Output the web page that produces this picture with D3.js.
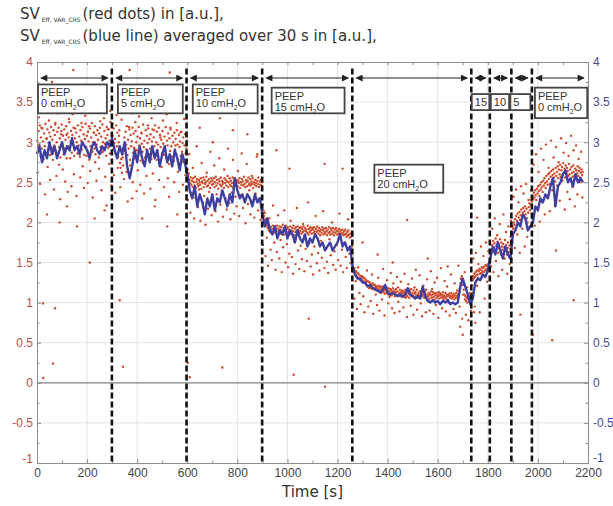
<!DOCTYPE html>
<html>
<head>
<meta charset="utf-8">
<script src="https://cdn.jsdelivr.net/npm/d3@7"></script>
<style>
  body { margin: 0; background: #fff; }
  svg { display: block; }
</style>
</head>
<body>
<svg id="chart" width="613" height="506"></svg>
<script>
// blue line: 30 s average, one value every 10 s starting at t = 0
const blueStep = 10;
const blueAvg = [
  2.85,2.95,2.75,2.9,2.8,3.0,2.85,2.95,2.8,2.9,3.0,2.85,2.95,2.9,3.05,2.9,2.95,2.85,3.0,2.95,2.9,2.8,2.95,3.0,2.9,2.85,2.95,2.9,3.0,2.95,
  3.05,2.9,2.8,2.95,2.85,3.0,2.7,2.55,2.7,2.9,2.75,2.95,2.8,2.7,2.9,2.75,2.95,2.8,2.9,2.7,2.85,2.95,2.75,2.85,2.7,2.9,2.8,2.65,2.85,2.75,
  2.6,2.4,2.3,2.45,2.2,2.35,2.25,2.1,2.3,2.2,2.35,2.15,2.3,2.25,2.4,2.3,2.2,2.35,2.25,2.55,2.4,2.3,2.35,2.25,2.35,2.3,2.2,2.35,2.25,2.3,
  2.1,1.95,2.05,1.9,1.85,1.95,1.8,1.9,1.85,1.95,1.8,1.9,1.85,1.75,1.9,1.8,1.75,1.85,1.7,1.8,1.75,1.85,1.8,1.7,1.75,1.65,1.7,1.75,1.65,1.7,1.75,1.85,1.7,1.75,1.65,1.7,
  1.45,1.35,1.3,1.3,1.25,1.25,1.2,1.22,1.18,1.17,1.15,1.13,1.15,1.22,1.12,1.1,1.12,1.1,1.08,1.1,1.07,1.1,1.18,1.1,1.08,1.05,1.08,1.05,1.2,1.08,1.02,1.0,1.03,1.0,1.02,0.98,1.02,1.0,1.03,0.98,1.0,0.98,1.0,1.2,1.3,1.2,1.1,0.98,
  1.05,1.25,1.3,1.28,1.35,1.32,1.4,
  1.55,1.7,1.6,1.75,1.65,1.55,1.7,1.6,1.55,
  1.85,1.9,2.0,1.95,2.1,2.05,1.9,1.95,2.0,
  2.2,2.15,2.3,2.25,2.35,2.3,2.45,2.55,2.2,2.45,2.5,2.6,2.65,2.5,2.55,2.45,2.6,2.5,2.55,2.5
];

// red dots, dense band: one value every 2.5 s starting at t = 1.25
const bandStep = 2.5, bandStart = 1.25;
const redBand = [
  3.02,2.88,3.14,2.97,3.21,2.83,3.06,2.92,3.17,3.01,2.79,3.11,2.95,3.23,2.87,3.04,3.16,2.91,2.99,3.12,
  2.84,3.07,3.19,2.93,3.03,2.78,3.15,2.96,3.09,3.24,2.89,3.00,3.13,2.86,3.18,2.94,3.05,2.81,3.10,3.22,
  2.98,3.08,2.85,3.16,2.92,3.03,3.20,2.80,3.11,2.95,3.06,3.25,2.90,3.01,3.14,2.87,3.09,2.97,3.18,2.83,
  3.05,2.93,3.12,3.00,2.86,3.21,2.96,3.07,2.82,3.15,3.02,2.91,3.19,2.99,3.10,2.84,3.04,3.23,2.94,3.08,
  2.89,3.13,3.01,2.78,3.17,2.95,3.06,3.24,2.88,3.00,3.12,2.92,3.20,2.85,3.09,2.97,3.15,3.03,2.81,3.11,
  3.18,2.94,3.07,2.87,3.22,3.00,2.90,3.14,2.98,3.05,2.83,3.19,3.09,2.93,3.16,3.02,2.86,3.25,2.96,3.10,
  3.08,2.91,3.17,2.99,3.04,2.86,3.21,2.95,3.12,2.82,3.00,3.15,2.74,2.68,2.79,2.62,2.85,2.71,2.93,3.06,
  2.89,3.13,2.97,3.20,2.84,3.03,2.92,3.16,2.78,3.09,2.95,3.01,3.18,2.87,3.11,2.93,2.80,3.14,3.00,2.90,
  3.07,2.83,3.19,2.96,3.05,2.77,3.12,2.98,2.88,3.22,2.94,3.02,2.81,3.15,2.91,3.08,2.99,3.17,2.85,3.04,
  2.92,3.10,2.79,3.01,3.16,2.87,3.06,2.95,3.21,2.83,3.00,3.13,2.90,2.97,3.18,2.76,3.09,2.94,3.03,2.86,
  3.14,2.98,2.84,3.07,2.93,3.19,2.80,3.02,2.96,3.11,2.73,3.05,2.89,3.16,2.95,2.82,3.08,3.00,2.77,3.12,
  2.91,3.04,2.85,3.15,2.97,2.78,3.09,2.94,3.01,2.83,3.13,2.88,2.99,3.06,2.75,2.96,3.10,2.86,2.92,3.02,
  2.66,2.58,2.61,2.53,2.49,2.56,2.47,2.52,2.44,2.55,2.50,2.46,2.57,2.43,2.51,2.54,2.48,2.45,2.53,2.50,
  2.47,2.55,2.42,2.51,2.49,2.56,2.44,2.53,2.48,2.50,2.57,2.45,2.52,2.46,2.54,2.49,2.43,2.51,2.55,2.47,
  2.52,2.48,2.55,2.44,2.50,2.57,2.46,2.53,2.49,2.42,2.54,2.51,2.47,2.56,2.45,2.52,2.48,2.50,2.43,2.55,
  2.49,2.53,2.46,2.51,2.58,2.44,2.50,2.55,2.47,2.52,2.45,2.49,2.56,2.43,2.51,2.54,2.48,2.46,2.53,2.50,
  2.45,2.52,2.49,2.55,2.43,2.50,2.47,2.54,2.51,2.46,2.57,2.48,2.44,2.53,2.50,2.45,2.52,2.56,2.47,2.49,
  2.54,2.46,2.51,2.48,2.55,2.43,2.50,2.47,2.53,2.49,2.45,2.52,2.48,2.56,2.44,2.51,2.47,2.53,2.46,2.50,
  2.22,2.15,2.08,2.12,2.03,1.99,2.05,1.96,1.93,1.97,1.90,1.95,1.88,1.94,1.91,1.86,1.96,1.92,1.89,1.95,
  1.87,1.93,1.90,1.96,1.84,1.92,1.89,1.95,1.91,1.86,1.94,1.88,1.97,1.90,1.85,1.93,1.89,1.96,1.87,1.92,
  1.94,1.88,1.91,1.85,1.95,1.90,1.87,1.93,1.89,1.96,1.84,1.92,1.88,1.94,1.90,1.86,1.95,1.91,1.87,1.93,
  1.89,1.94,1.86,1.92,1.88,1.95,1.90,1.84,1.93,1.89,1.91,1.87,1.96,1.85,1.92,1.88,1.94,1.90,1.86,1.93,
  1.91,1.87,1.94,1.89,1.85,1.92,1.88,1.95,1.90,1.86,1.93,1.89,1.84,1.91,1.87,1.94,1.90,1.85,1.92,1.88,
  1.86,1.93,1.89,1.84,1.91,1.87,1.94,1.88,1.85,1.92,1.90,1.86,1.93,1.88,1.84,1.91,1.87,1.93,1.89,1.85,
  1.90,1.86,1.92,1.88,1.83,1.90,1.86,1.91,1.87,1.84,1.89,1.85,1.91,1.86,1.82,1.88,1.84,1.90,1.85,1.81,
  1.86,1.82,1.88,1.83,
  1.46,1.41,1.38,1.43,1.35,1.39,1.33,1.37,1.31,1.36,1.30,1.34,1.28,1.33,1.29,1.32,1.27,1.31,1.25,1.30,
  1.24,1.28,1.22,1.27,1.21,1.26,1.20,1.25,1.19,1.23,1.21,1.17,1.24,1.18,1.22,1.16,1.21,1.19,1.15,1.20,
  1.17,1.21,1.14,1.19,1.16,1.12,1.18,1.15,1.20,1.13,1.17,1.11,1.16,1.19,1.12,1.15,1.18,1.10,1.14,1.17,
  1.12,1.16,1.09,1.14,1.18,1.11,1.15,1.08,1.13,1.17,1.10,1.14,1.19,1.09,1.12,1.16,1.08,1.13,1.11,1.15,
  1.09,1.14,1.12,1.07,1.16,1.10,1.13,1.08,1.15,1.11,1.06,1.14,1.10,1.17,1.08,1.12,1.09,1.15,1.07,1.11,
  1.13,1.08,1.16,1.10,1.06,1.12,1.09,1.14,1.07,1.11,1.15,1.08,1.10,1.13,1.06,1.12,1.09,1.16,1.07,1.10,
  1.08,1.12,1.05,1.11,1.09,1.14,1.06,1.10,1.13,1.07,1.11,1.04,1.09,1.12,1.06,1.10,1.08,1.13,1.05,1.09,
  1.11,1.06,1.10,1.08,1.13,1.04,1.09,1.07,1.12,1.05,1.10,1.08,1.03,1.09,1.11,1.06,1.08,1.12,1.05,1.09,
  1.07,1.11,1.04,1.09,1.06,1.12,1.08,1.05,1.10,1.07,1.13,1.18,1.24,1.29,1.33,1.27,1.22,1.16,1.10,1.04,
  1.08,1.02,1.06,1.00,1.05,1.09,1.03,1.07,1.01,1.05,
  1.22,1.28,1.33,1.30,1.36,1.32,1.38,1.34,1.40,1.35,1.31,1.39,1.42,1.36,1.41,1.37,1.44,1.39,1.43,1.38,
  1.45,1.40,1.47,1.42,1.46,1.41,1.48,1.44,1.50,1.46,
  1.58,1.66,1.72,1.63,1.77,1.69,1.74,1.65,1.80,1.71,1.67,1.76,1.62,1.73,1.68,1.79,1.64,1.75,1.70,1.66,
  1.73,1.61,1.69,1.78,1.65,1.72,1.60,1.68,1.75,1.63,1.71,1.67,1.82,1.74,
  1.88,1.95,1.92,2.00,1.97,2.04,1.93,2.08,2.02,2.11,1.99,2.06,2.13,2.03,2.09,2.16,2.05,2.12,2.18,2.08,
  2.14,2.20,2.10,2.17,2.05,2.00,2.12,2.19,2.24,2.15,2.22,2.28,
  2.26,2.33,2.29,2.37,2.31,2.40,2.34,2.28,2.42,2.36,2.45,2.39,2.33,2.47,2.41,2.50,2.44,2.38,2.52,2.46,
  2.55,2.49,2.43,2.58,2.51,2.47,2.60,2.54,2.62,2.48,2.57,2.64,2.53,2.59,2.66,2.56,2.61,2.51,2.68,2.58,
  2.63,2.70,2.55,2.66,2.60,2.72,2.57,2.65,2.69,2.59,2.74,2.62,2.67,2.56,2.71,2.61,2.68,2.64,2.58,2.73,
  2.60,2.66,2.54,2.69,2.62,2.57,2.71,2.63,2.59,2.67,2.55,2.65,2.61,2.70,2.58,2.64,2.68,2.56,2.62,2.66,
  2.59,2.63
];

// red dots, wider spread: one value every 5 s starting at t = 2.5
const spreadStep = 5, spreadStart = 2.5;
const redSpread = [
  2.62,3.31,2.48,3.18,2.77,3.42,2.35,3.05,2.69,3.27,2.53,3.38,2.86,2.41,3.22,2.58,3.36,2.72,2.29,3.14,
  2.66,3.40,2.51,3.09,2.38,3.29,2.80,2.45,3.35,2.60,3.17,2.33,2.94,3.44,2.56,3.24,2.70,2.43,3.33,2.83,
  2.49,3.20,2.64,3.37,2.31,3.12,2.75,2.52,3.41,2.67,3.26,2.40,2.88,3.30,2.57,2.21,3.16,2.73,3.39,2.46,
  3.23,2.59,2.37,3.34,2.68,3.08,2.44,3.28,2.81,2.54,3.43,2.63,2.26,3.19,2.71,3.36,2.50,2.92,3.25,2.39,
  2.65,3.32,2.47,3.11,2.74,2.36,3.40,2.58,3.21,2.84,2.42,3.30,2.61,3.15,2.28,2.78,3.37,2.53,3.06,2.69,
  3.27,2.44,2.85,3.35,2.55,2.32,3.18,2.72,3.41,2.50,2.96,3.24,2.63,2.38,3.12,2.76,2.47,3.29,2.59,2.34,
  2.28,2.85,2.12,2.36,2.68,2.05,2.31,2.95,2.19,2.41,2.02,2.74,2.25,2.33,1.97,2.62,2.17,2.38,2.88,2.09,
  2.27,2.71,2.14,2.35,2.01,2.80,2.22,2.39,2.07,2.66,2.30,2.16,2.92,2.24,2.04,2.37,2.78,2.11,2.32,2.20,
  2.64,2.08,2.34,2.86,2.18,2.29,1.99,2.73,2.23,2.40,2.10,2.58,2.26,2.06,2.36,2.82,2.15,2.30,2.03,2.21,
  1.72,2.12,1.58,1.81,1.46,2.05,1.66,1.53,2.21,1.75,1.41,1.63,2.09,1.55,1.78,1.38,1.69,2.15,1.50,1.73,
  1.44,1.61,2.02,1.57,1.36,1.76,1.48,2.18,1.65,1.42,1.71,1.54,1.98,1.39,1.67,1.52,2.25,1.74,1.45,1.60,
  1.35,1.70,2.08,1.49,1.62,1.40,1.77,1.56,2.14,1.43,1.68,1.51,1.37,1.79,1.59,2.00,1.47,1.64,1.41,1.72,
  1.53,2.11,1.46,1.66,1.38,1.75,1.57,1.43,2.04,1.61,1.49,1.70,
  1.38,1.05,1.27,0.92,1.44,1.12,0.98,1.33,1.08,0.88,1.25,1.40,0.95,1.18,1.02,1.35,0.86,1.22,1.10,0.97,
  1.31,0.90,1.20,1.04,1.42,0.84,1.15,1.28,0.99,1.07,1.37,0.93,1.24,0.87,1.13,1.32,1.01,0.89,1.26,1.11,
  0.94,1.36,1.06,0.82,1.23,1.16,0.96,1.30,0.85,1.19,1.41,0.91,1.09,1.34,0.99,0.83,1.21,1.14,0.88,1.29,
  1.03,0.90,1.39,1.17,0.86,1.25,0.97,1.31,0.81,1.12,1.43,0.93,1.06,1.27,0.89,1.20,1.00,0.84,1.35,1.08,
  0.92,1.24,0.87,1.15,1.46,0.95,1.30,0.80,1.10,1.38,0.85,1.19,0.78,1.12,0.90,
  1.12,1.55,0.95,1.62,1.21,1.48,0.88,1.70,1.33,1.58,1.05,1.75,1.26,1.64,1.42,
  1.45,1.92,1.38,2.05,1.52,1.84,1.33,1.98,1.60,1.41,2.10,1.55,1.88,1.36,1.95,1.48,2.02,
  1.75,2.32,1.68,2.41,1.85,2.25,1.62,2.45,1.92,2.36,1.70,2.48,1.82,2.28,1.95,2.40,
  2.05,2.72,1.96,2.85,2.18,2.63,2.01,2.92,2.25,2.78,2.10,2.97,2.33,2.68,2.14,3.02,2.40,2.81,2.21,2.94,
  2.46,2.75,2.27,3.05,2.52,2.87,2.16,2.99,2.38,2.83,2.29,3.08,2.44,2.90,2.20,2.96,2.35,2.79,2.50,2.88,
  2.31
];

// isolated red dots [time s, value]
const redOutliers = [
  [24,0.99],[72,0.93],[64,0.24],[25,0.06],[211,1.5],[145,3.9],[370,3.9],[530,3.87],[60,3.75],
  [330,1.03],[343,0.2],[602,0.25],[610,0.07],[740,0.19],[1025,0.1],[1150,-0.05],[2143,1.03],
  [2057,0.53],[2072,1.65],[1478,2.03],[1148,2.73],[1757,2.06],[1085,0.8],[1220,2.67],[1008,2.67],
  [956,2.9],[650,3.18],[702,3.0],[730,3.3],[782,3.15],[1750,0.75],[1745,0.88],[1930,0.85],[1980,0.6],
  [40,2.1],[90,2.0],[120,2.2],[160,1.95],[230,2.05],[270,2.15],[380,2.3],[420,2.05],[470,2.2],
  [520,1.95],[560,2.1],[450,3.6],[250,3.55],[100,3.6],[840,3.1],[880,2.85],[1300,1.75],[1360,1.6],
  [1420,1.5],[1560,1.55],[1640,1.45],[1690,0.7],[1700,0.6]
];

// PEEP phase boundaries in s
const phaseBounds = [0, 299, 597, 899, 1259, 1734, 1808, 1894, 1976, 2200];
const phaseLabels = [["PEEP","0 cmH","2","O"],["PEEP","5 cmH","2","O"],["PEEP","10 cmH","2","O"],
  ["PEEP","15 cmH","2","O"],["PEEP","20 cmH","2","O"],["15"],["10"],["5"],["PEEP","0 cmH","2","O"]];
// label boxes [t0, t1, vTop, vBottom]
const phaseBoxes = [[4,279,3.72,3.36],[323,582,3.72,3.36],[622,881,3.72,3.36],[937,1228,3.68,3.36],
  [1347,1622,2.72,2.37],[1736,1806,3.6,3.4],[1812,1885,3.6,3.4],[1890,1970,3.6,3.4],[1988,2197,3.68,3.3]];

const xMajor = d3.range(0, 2201, 200);
const xMinor = d3.range(100, 2200, 200);
const yMajor = d3.range(-1, 4.01, 0.5);
const yMinor = d3.range(-0.75, 4, 0.5);

const svg = d3.select("#chart");
const mLeft = 37, mRight = 588, mTop = 62, mBottom = 463;
const x = d3.scaleLinear().domain([0, 2200]).range([mLeft, mRight]);
const y = d3.scaleLinear().domain([-1, 4]).range([mBottom, mTop]);

const red = "#cf4a2a", blue = "#3d40a0";
const tickFont = "Liberation Sans, Arial, sans-serif";

// grid
const grid = svg.append("g").attr("stroke", "#dcdcdc").attr("stroke-width", 0.8);
grid.selectAll(".gx").data(xMajor.slice(1, -1)).join("line")
  .attr("x1", d => x(d)).attr("x2", d => x(d)).attr("y1", mTop).attr("y2", mBottom);
grid.selectAll(".gy").data(yMajor.slice(1, -1)).join("line")
  .attr("y1", d => y(d)).attr("y2", d => y(d)).attr("x1", mLeft).attr("x2", mRight);
svg.append("line").attr("x1", mLeft).attr("x2", mRight).attr("y1", y(0)).attr("y2", y(0))
  .attr("stroke", "#8a8a8a").attr("stroke-width", 1.2);

// red dots
const dots = redBand.map((v, i) => [bandStart + i * bandStep, v])
  .concat(redSpread.map((v, i) => [spreadStart + i * spreadStep, v]))
  .concat(redOutliers);
svg.append("g").attr("fill", red)
  .selectAll("circle").data(dots).join("circle")
  .attr("cx", d => x(d[0])).attr("cy", d => y(d[1])).attr("r", 1.2);

// blue averaged line
const line = d3.line().x((d, i) => x(i * blueStep)).y(d => y(d));
svg.append("path").datum(blueAvg)
  .attr("fill", "none").attr("stroke", blue).attr("stroke-width", 2.4)
  .attr("stroke-linejoin", "round").attr("d", line);

// axes
function styleAxis(g, color) {
  g.select(".domain").attr("stroke", "#8c8c8c");
  g.selectAll(".tick line").attr("stroke", "#8c8c8c");
  g.selectAll("text").attr("fill", color).style("font-family", tickFont).style("font-size", "12px");
}
const fmt = d => String(d);
svg.append("g").attr("transform", `translate(0,${mBottom})`)
  .call(d3.axisBottom(x).tickValues(xMajor).tickFormat(fmt).tickSizeInner(-4).tickSizeOuter(0).tickPadding(5))
  .call(g => styleAxis(g, "#444"));
svg.append("g").attr("transform", `translate(0,${mBottom})`)
  .call(d3.axisBottom(x).tickValues(xMinor).tickFormat("").tickSizeInner(-2.5).tickSizeOuter(0))
  .call(g => styleAxis(g, "#444"));
svg.append("g").attr("transform", `translate(0,${mTop})`)
  .call(d3.axisTop(x).tickValues(xMajor.concat(xMinor)).tickFormat("").tickSizeInner(-3).tickSizeOuter(0))
  .call(g => styleAxis(g, "#444"));
svg.append("g").attr("transform", `translate(${mLeft},0)`)
  .call(d3.axisLeft(y).tickValues(yMajor).tickFormat(fmt).tickSizeInner(-4).tickSizeOuter(0).tickPadding(4))
  .call(g => styleAxis(g, "#b8524a"))
  .call(g => g.selectAll(".tick text").filter(d => d === -1).attr("dy", "-0.05em"));
svg.append("g").attr("transform", `translate(${mLeft},0)`)
  .call(d3.axisLeft(y).tickValues(yMinor).tickFormat("").tickSizeInner(-2.5).tickSizeOuter(0))
  .call(g => styleAxis(g, "#b8524a"));
svg.append("g").attr("transform", `translate(${mRight},0)`)
  .call(d3.axisRight(y).tickValues(yMajor).tickFormat(fmt).tickSizeInner(-4).tickSizeOuter(0).tickPadding(5))
  .call(g => styleAxis(g, "#4a4c9c"))
  .call(g => g.selectAll(".tick text").filter(d => d === -1).attr("dy", "-0.1em"));
svg.append("g").attr("transform", `translate(${mRight},0)`)
  .call(d3.axisRight(y).tickValues(yMinor).tickFormat("").tickSizeInner(-2.5).tickSizeOuter(0))
  .call(g => styleAxis(g, "#4a4c9c"));

// phase boundaries
svg.append("g").attr("stroke", "#111").attr("stroke-width", 2.6).attr("stroke-dasharray", "6,3")
  .selectAll("line").data(phaseBounds.slice(1, -1)).join("line")
  .attr("x1", d => x(d)).attr("x2", d => x(d)).attr("y1", y(3.92)).attr("y2", mBottom);

// double-headed arrows
const defs = svg.append("defs");
defs.append("marker").attr("id", "ah").attr("viewBox", "0 0 10 10").attr("refX", 9).attr("refY", 5)
  .attr("markerWidth", 9).attr("markerHeight", 7).attr("markerUnits", "userSpaceOnUse")
  .attr("orient", "auto-start-reverse")
  .append("path").attr("d", "M0,0L10,5L0,10z").attr("fill", "#222");
const arrowY = y(3.8);
svg.append("g").selectAll("line").data(d3.pairs(phaseBounds)).join("line")
  .attr("x1", d => x(d[0]) + 4).attr("x2", d => x(d[1]) - 4)
  .attr("y1", arrowY).attr("y2", arrowY)
  .attr("stroke", "#222").attr("stroke-width", 1.1)
  .attr("marker-start", "url(#ah)").attr("marker-end", "url(#ah)");

// label boxes
const boxes = svg.append("g").selectAll("g").data(phaseBoxes).join("g");
boxes.append("rect")
  .attr("x", d => x(d[0])).attr("y", d => y(d[2]))
  .attr("width", d => x(d[1]) - x(d[0])).attr("height", d => y(d[3]) - y(d[2]))
  .attr("fill", "#fff").attr("stroke", "#444").attr("stroke-width", 1.8);
boxes.each(function(d, i) {
  const g = d3.select(this), lab = phaseLabels[i];
  const bx = x(d[0]), by = y(d[2]), bh = y(d[3]) - y(d[2]);
  const t = g.append("text").attr("fill", "#333")
    .style("font-family", tickFont).style("font-size", "11px");
  if (lab.length === 1) {
    t.attr("x", bx + 3).attr("y", by + bh / 2 + 4).text(lab[0]);
  } else {
    t.append("tspan").attr("x", bx + 3).attr("y", by + 12).text(lab[0]);
    t.append("tspan").attr("x", bx + 3).attr("y", by + 23).text(lab[1]);
    t.append("tspan").attr("dy", 3).style("font-size", "7px").text(lab[2]);
    t.append("tspan").attr("dy", -3).text(lab[3]);
  }
});

// title
const titleFont = "DejaVu Sans, sans-serif";
const titles = [" (red dots) in [a.u.],", "(blue line) averaged over 30 s in [a.u.],"];
titles.forEach((s, i) => {
  const t = svg.append("text").attr("x", 20).attr("y", 19 + i * 22).attr("fill", "#333")
    .style("font-family", titleFont).style("font-size", "15px");
  t.append("tspan").text("SV");
  t.append("tspan").attr("dy", 3).style("font-size", "6px").text(" Eff, VAR_CRS ");
  t.append("tspan").attr("dy", -3).text(s);
});

svg.append("text").attr("x", (mLeft + mRight) / 2).attr("y", 497).attr("text-anchor", "middle")
  .attr("fill", "#333").style("font-family", titleFont).style("font-size", "15px").text("Time [s]");
</script>
</body>
</html>
